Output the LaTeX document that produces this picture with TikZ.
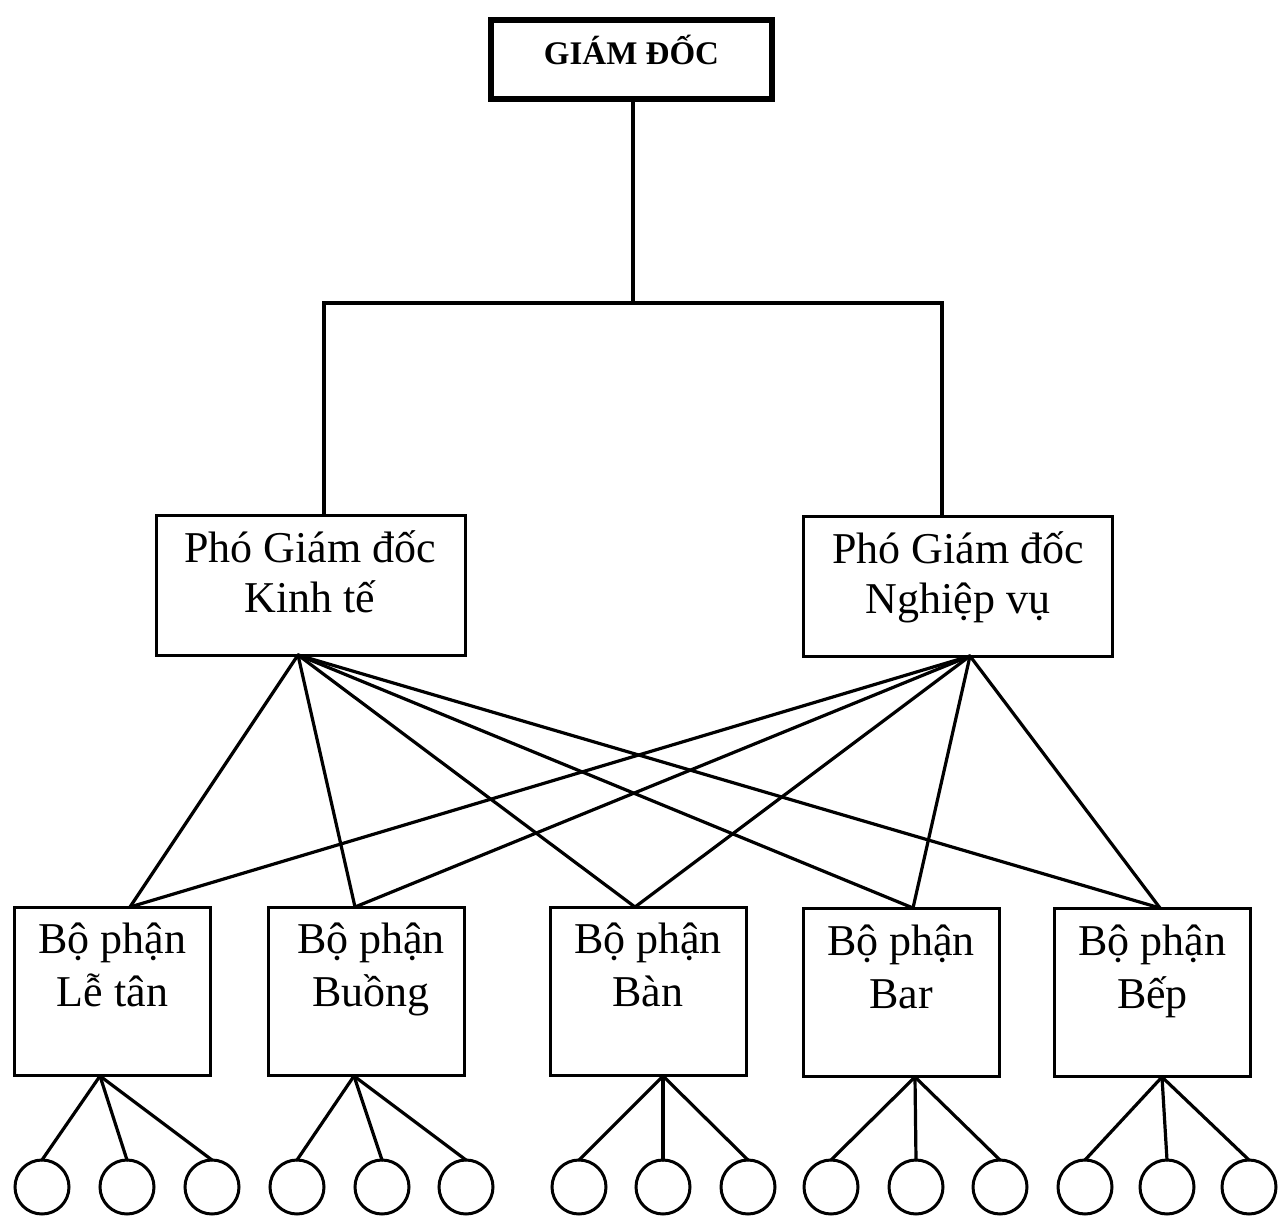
\documentclass[tikz,border=0pt]{standalone}
\usepackage{fontspec}
\setmainfont{Liberation Serif}
\begin{document}
\begin{tikzpicture}[x=1pt,y=-1pt,
  every node/.style={inner sep=0pt, outer sep=0pt},
  topbox/.style={draw, line width=6pt, minimum width=281pt, minimum height=79pt},
  midbox/.style={draw, line width=3pt, minimum width=309pt, minimum height=140pt},
  botbox/.style={draw, line width=3pt, minimum width=196pt, minimum height=168pt},
  conn/.style={line width=3.2pt, line cap=round},
  leaf/.style={draw, circle, line width=3pt, minimum size=54pt},
  lbl/.style={anchor=base}
]
\useasboundingbox (0,0) rectangle (1280,1217);

% top
\node[topbox] (gd) at (631.5,59.5) {};
\node[lbl] (gdt) at (631.5,65) {\fontsize{33}{40}\selectfont\bfseries GIÁM ĐỐC};

% middle
\node[midbox] (pgl) at (310.5,585) {};
\node[midbox] (pgr) at (958,586) {};
\node[lbl] (pglt) at (310,562) {\parbox[t]{300pt}{\fontsize{44}{50}\selectfont\centering Phó Giám đốc\\Kinh tế}};
\node[lbl] (pgrt) at (958,563) {\parbox[t]{300pt}{\fontsize{44}{50}\selectfont\centering Phó Giám đốc\\Nghiệp vụ}};

% bottom boxes
\node[botbox] (b1) at (112.5,991.5) {};
\node[botbox] (b2) at (366.5,991.5) {};
\node[botbox] (b3) at (648,991.5) {};
\node[botbox] (b4) at (901,992.5) {};
\node[botbox] (b5) at (1152.5,992.5) {};
\node[lbl] (t1) at (112.5,953) {\parbox[t]{190pt}{\fontsize{44}{53}\selectfont\centering Bộ phận\\Lễ tân}};
\node[lbl] (t2) at (371,953) {\parbox[t]{190pt}{\fontsize{44}{53}\selectfont\centering Bộ phận\\Buồng}};
\node[lbl] (t3) at (648,953) {\parbox[t]{190pt}{\fontsize{44}{53}\selectfont\centering Bộ phận\\Bàn}};
\node[lbl] (t4) at (901,955) {\parbox[t]{190pt}{\fontsize{44}{53}\selectfont\centering Bộ phận\\Bar}};
\node[lbl] (t5) at (1152.5,955) {\parbox[t]{190pt}{\fontsize{44}{53}\selectfont\centering Bộ phận\\Bếp}};

% connection points
\coordinate (j) at (633,303);
\coordinate (jl) at (324,303);
\coordinate (jr) at (942,303);
\coordinate (pl) at (298,655);
\coordinate (pr) at (970,656);
\coordinate (bt1) at (130,907);
\coordinate (bt2) at (355,907);
\coordinate (bt3) at (635,907);
\coordinate (bt4) at (913,908);
\coordinate (bt5) at (1160,908);
\coordinate (bb1) at (100,1076);
\coordinate (bb2) at (354,1076);
\coordinate (bb3) at (663,1076);
\coordinate (bb4) at (915,1077);
\coordinate (bb5) at (1162,1077);

% leaves
\foreach \i/\a/\b/\c in {1/42/127/212, 2/297/382/466, 3/579/663/748, 4/831/916/1000, 5/1085/1167/1249}{
  \node[leaf] (c\i1) at (\a,1187) {};
  \node[leaf] (c\i2) at (\b,1187) {};
  \node[leaf] (c\i3) at (\c,1187) {};
  \draw[conn] (bb\i) -- (c\i1.north);
  \draw[conn] (bb\i) -- (c\i2.north);
  \draw[conn] (bb\i) -- (c\i3.north);
}

% tree connectors
\draw[conn, line cap=butt] (gd.south -| j) -- (j);
\draw[conn, line cap=butt] (jl |- pgl.north) -- (jl) -- (jr) -- (jr |- pgr.north);

\foreach \i in {1,...,5}{
  \draw[conn] (pl) -- (bt\i);
  \draw[conn] (pr) -- (bt\i);
}
\end{tikzpicture}
\end{document}
